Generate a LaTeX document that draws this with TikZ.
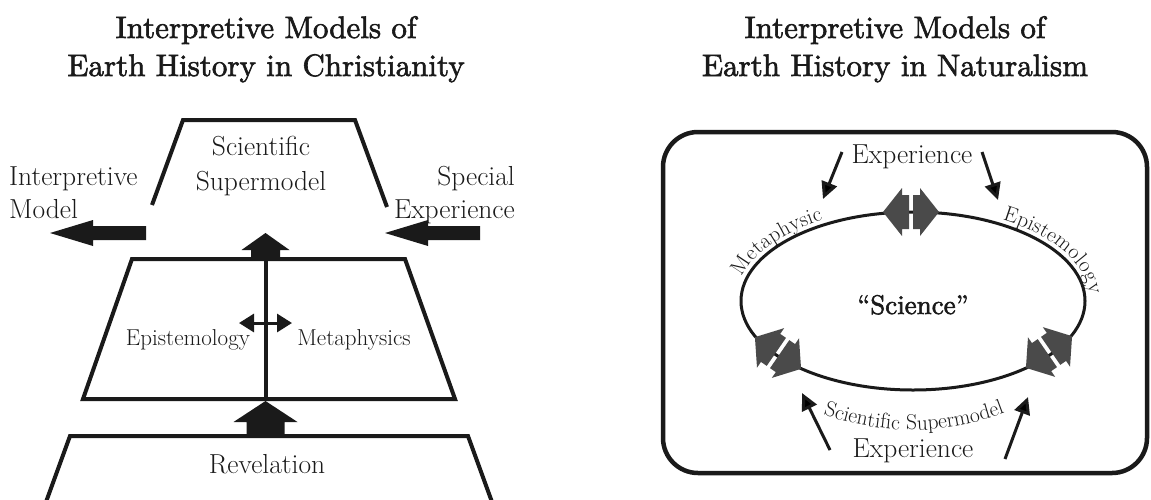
\documentclass[tikz,border=0pt]{standalone}
\usepackage{fontspec}
\newfontfamily\titlefont{lmroman10-regular.otf}[FakeBold=2]
\usetikzlibrary{arrows.meta,decorations.text}
\definecolor{ink}{HTML}{1A1A1A}
\definecolor{arrowgray}{HTML}{4A4A4A}
\begin{document}
\begin{tikzpicture}[x=1pt,y=-1pt,
  titletext/.style={font=\titlefont\fontsize{31}{36}\selectfont, inner sep=0pt, anchor=base, text=ink},
  lbl/.style={font=\fontsize{27.5}{32}\selectfont, inner sep=0pt, anchor=base, text=ink},
  midlbl/.style={font=\fontsize{23}{27}\selectfont, inner sep=0pt, anchor=base, text=ink},
  trap/.style={line width=4pt, draw=ink, line join=miter},
  fatarrow/.style={fill=ink},
  thinarrow/.style={line width=3pt, draw=ink, -{Triangle[length=17pt,width=16pt]}},
  dblarrow/.pic={
    \fill[arrowgray] (2,17) -- (9,17) -- (9,24) -- (28,0) -- (9,-24) -- (9,-17) -- (2,-17) -- cycle;
    \fill[arrowgray] (-2,17) -- (-9,17) -- (-9,24) -- (-28,0) -- (-9,-24) -- (-9,-17) -- (-2,-17) -- cycle;
  }
]
\useasboundingbox (0,0) rectangle (1151,499);

% ---------- titles ----------
\node[titletext] (t1a) at (266,38) {Interpretive Models of};
\node[titletext] (t1b) at (266,76) {Earth History in Christianity};
\node[titletext] (t2a) at (895,38) {Interpretive Models of};
\node[titletext] (t2b) at (895,76) {Earth History in Naturalism};

% ---------- left: Christianity ----------
\draw[trap] (152,205) -- (183,120) -- (355,120) -- (387,207);
\node[lbl] (sci) at (261,155) {Scientific};
\node[lbl] (sup) at (261,190) {Supermodel};
\node[lbl, anchor=base west] (interp) at (9,185) {Interpretive};
\node[lbl, anchor=base west] (model) at (9,218) {Model};
\node[lbl, anchor=base east] (special) at (515,185) {Special};
\node[lbl, anchor=base east] (spexp) at (515,218) {Experience};

% fat arrows
\fill[fatarrow] (146,226) -- (93,226) -- (93,220) -- (50,233) -- (93,246) -- (93,240) -- (146,240) -- cycle;
\fill[fatarrow] (480,226) -- (428,226) -- (428,220) -- (385,233) -- (428,246) -- (428,240) -- (480,240) -- cycle;
\fill[fatarrow] (251,260) -- (251,250) -- (241.5,250) -- (265.5,233) -- (289.5,250) -- (280,250) -- (280,260) -- cycle;

\draw[trap] (132,259) -- (405,259) -- (455,399) -- (83,399) -- cycle;
\draw[trap] (265.5,259) -- (265.5,399);
\coordinate (dl) at (239,323);
\coordinate (dr) at (292,323);
\draw[line width=3pt, draw=ink, {Triangle[length=15pt,width=18pt]}-{Triangle[length=15pt,width=18pt]}] (dl) -- (dr);
\node[midlbl] (epi) at (188,345) {Epistemology};
\node[midlbl] (met) at (354,345) {Metaphysics};

\fill[fatarrow] (246.5,437) -- (246.5,422) -- (233.5,422) -- (265.5,401) -- (297.5,422) -- (284.5,422) -- (284.5,437) -- cycle;

\draw[trap] (46,502) -- (70,436) -- (468,436) -- (492,502);
\node[lbl] (rev) at (267,473) {Revelation};

% ---------- right: Naturalism ----------
\draw[line width=4.5pt, draw=ink, rounded corners=35pt] (663,132) rectangle (1147,473);
\draw[line width=3pt, draw=ink] (913,301) ellipse [x radius=172, y radius=89];

\path[decorate, decoration={text along path, text color=ink,
   text={|\fontsize{21.5}{24}\selectfont|Metaphysic}, text align=center, raise=5pt}]
   ([shift={(913,301)}]178:172 and 89) arc[start angle=178, end angle=248, x radius=172, y radius=89];
\path[decorate, decoration={text along path, text color=ink,
   text={|\fontsize{21.5}{24}\selectfont|Epistemology}, text align=center, raise=5pt}]
   ([shift={(913,301)}]295:172 and 89) arc[start angle=295, end angle=367, x radius=172, y radius=89];
\path[decorate, decoration={text along path, text color=ink,
   text={|\fontsize{21.5}{25}\selectfont|Scientific Supermodel}, text align=center}]
   ([shift={(912,170)}]117:260) arc[start angle=117, end angle=62, radius=260];

\pic at (911,212) {dblarrow};
\pic[rotate=-34.5] at (778,353) {dblarrow};
\pic[rotate=34.5] at (1049,352) {dblarrow};

\node[lbl] (exptop) at (912,163) {Experience};
\node[lbl] (expbot) at (913,457) {Experience};
\node[titletext, font=\titlefont\fontsize{27}{30}\selectfont] (science) at (913,314) {“Science”};

\coordinate (a1s) at (842,152);
\coordinate (a1e) at (823,199);
\coordinate (a2s) at (982,152);
\coordinate (a2e) at (998,200);
\coordinate (a3s) at (830,450);
\coordinate (a3e) at (802,393);
\coordinate (a4s) at (1005,459);
\coordinate (a4e) at (1028,397);
\draw[thinarrow] (a1s) -- (a1e);
\draw[thinarrow] (a2s) -- (a2e);
\draw[thinarrow] (a3s) -- (a3e);
\draw[thinarrow] (a4s) -- (a4e);
\end{tikzpicture}
\end{document}
